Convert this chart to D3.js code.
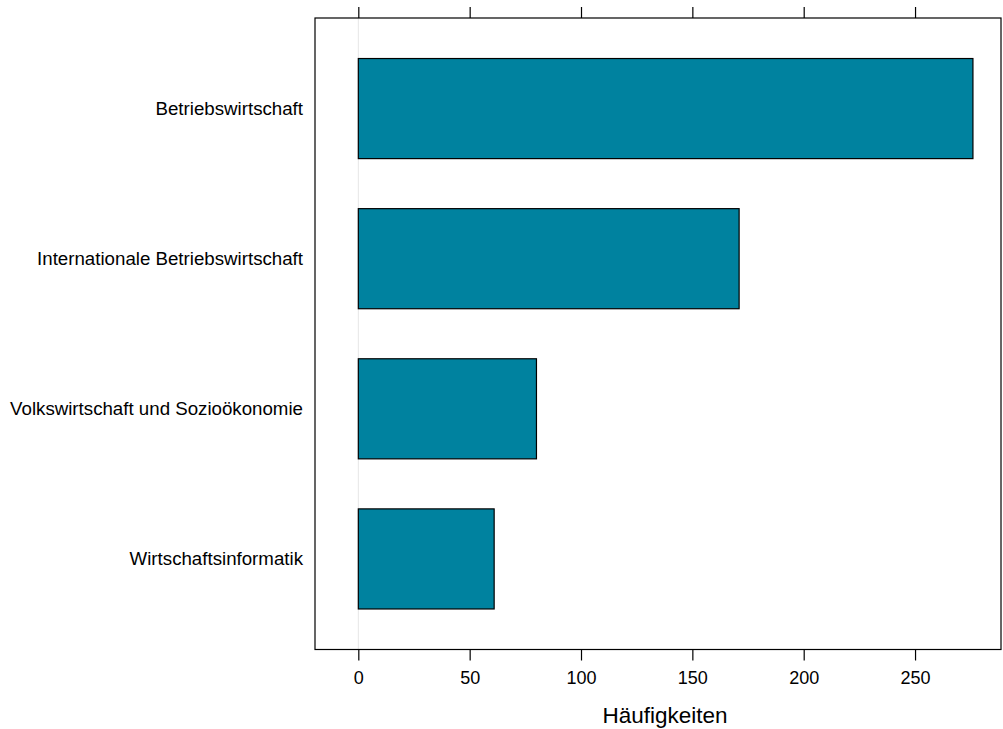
<!DOCTYPE html>
<html><head><meta charset="utf-8">
<script src="https://cdn.jsdelivr.net/npm/d3@7"></script>
<style>body{margin:0;background:#fff}svg{display:block}text{font-family:"Liberation Sans",Arial,sans-serif}</style>
</head><body>
<svg id="c" width="1003" height="729"></svg>
<script>
const categories = ["Betriebswirtschaft","Internationale Betriebswirtschaft","Volkswirtschaft und Sozioökonomie","Wirtschaftsinformatik"];
const values = [276, 171, 80, 61];
const xTicks = [0, 50, 100, 150, 200, 250];
const xTitle = "Häufigkeiten";

const svg = d3.select("#c");
const L = 315, R = 1001, T = 18, B = 649.5;
const x = d3.scaleLinear().domain([-19.45, 288.6]).range([L, R]);
const y = d3.scaleBand().domain(categories).range([T, B]).paddingInner(1/3).paddingOuter(0.27);

// reference line at 0
svg.append("line").attr("x1", x(0)).attr("x2", x(0)).attr("y1", T).attr("y2", B)
  .attr("stroke", "#e6e6e6").attr("stroke-width", 1);

svg.selectAll("rect.bar").data(categories).join("rect").attr("class","bar")
  .attr("x", x(0)).attr("y", d => y(d))
  .attr("width", (d,i) => x(values[i]) - x(0)).attr("height", y.bandwidth())
  .attr("fill", "#00829F").attr("stroke", "#000").attr("stroke-width", 1.2);

// frame
svg.append("rect").attr("x", L).attr("y", T).attr("width", R - L).attr("height", B - T)
  .attr("fill", "none").attr("stroke", "#000").attr("stroke-width", 1.2);

// bottom axis
const ax = d3.axisBottom(x).tickValues(xTicks).tickSize(11).tickPadding(10.7).tickSizeOuter(0);
const gb = svg.append("g").attr("transform", `translate(0,${B})`).call(ax);
gb.select(".domain").remove();
gb.selectAll("line").attr("stroke","#000").attr("stroke-width",1.2);
gb.selectAll("text").attr("font-size", 18).attr("fill","#000").attr("font-family","'Liberation Sans',Arial,sans-serif");

// top ticks
const at = d3.axisTop(x).tickValues(xTicks).tickSize(11).tickFormat("");
const gt = svg.append("g").attr("transform", `translate(0,${T})`).call(at);
gt.select(".domain").remove();
gt.selectAll("line").attr("stroke","#000").attr("stroke-width",1.2);

// category labels
svg.selectAll("text.cat").data(categories).join("text").attr("class","cat")
  .attr("x", L - 12).attr("y", d => y(d) + y.bandwidth()/2)
  .attr("text-anchor","end").attr("dominant-baseline","central")
  .attr("font-size", 18.7).attr("fill","#000").text(d => d);

svg.append("text").attr("x", 665).attr("y", 723).attr("text-anchor","middle")
  .attr("font-size", 22.5).attr("fill","#000").text(xTitle);
</script>
</body></html>
